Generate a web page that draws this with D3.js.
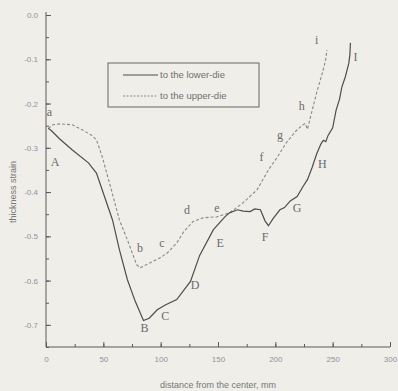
<!DOCTYPE html>
<html>
<head>
<meta charset="utf-8">
<script src="https://cdn.jsdelivr.net/npm/d3@7"></script>
<style>
  html, body { margin: 0; padding: 0; background: #efeee9; }
  svg { display: block; }
</style>
</head>
<body>
<div id="chart"></div>
<script>
// values
const lowerX = [2, 5, 12, 23, 37, 44, 51, 58, 64, 71, 78, 85, 90, 97, 104, 114, 126, 134, 146, 156, 160, 167, 172, 178, 182, 187, 191, 194, 198, 204, 208, 213, 219, 224, 228, 232, 236, 240, 242, 244, 246, 250, 253, 256, 258, 261, 264, 265, 265.5];
const lowerY = [-0.256, -0.262, -0.28, -0.305, -0.334, -0.357, -0.41, -0.463, -0.53, -0.598, -0.648, -0.69, -0.685, -0.666, -0.655, -0.643, -0.602, -0.543, -0.485, -0.456, -0.447, -0.44, -0.443, -0.444, -0.438, -0.44, -0.465, -0.476, -0.46, -0.44, -0.435, -0.42, -0.41, -0.388, -0.372, -0.345, -0.314, -0.29, -0.283, -0.286, -0.272, -0.255, -0.215, -0.19, -0.163, -0.14, -0.11, -0.09, -0.063];

const upperX = [2, 6, 12, 23, 32, 40, 44, 49, 57, 64, 71, 79, 82, 87, 93, 100, 106, 114, 120, 128, 137, 149, 160, 172, 184, 194, 202, 210, 218, 223, 226, 228, 230, 236, 241, 244, 245];
const upperY = [-0.256, -0.248, -0.246, -0.248, -0.26, -0.272, -0.282, -0.32, -0.395, -0.463, -0.508, -0.564, -0.571, -0.565, -0.557, -0.548, -0.537, -0.515, -0.49, -0.467, -0.458, -0.456, -0.447, -0.424, -0.395, -0.35, -0.32, -0.287, -0.262, -0.25, -0.245, -0.258, -0.237, -0.176, -0.131, -0.1, -0.079];

const xTicks = [0, 50, 100, 150, 200, 250, 300];
const xTickLabels = ["0", "50", "100", "150", "200", "250", "300"];
const yTicks = [0, -0.1, -0.2, -0.3, -0.4, -0.5, -0.6, -0.7];
const yTickLabels = ["0.0", "-0.1", "-0.2", "-0.3", "-0.4", "-0.5", "-0.6", "-0.7"];

// point labels on the curves: [distance, strain, letter]
const upperMarks = [[3, -0.228, "a"], [82, -0.535, "b"], [101, -0.525, "c"], [123, -0.45, "d"], [149, -0.445, "e"], [188, -0.33, "f"], [204, -0.28, "g"], [223, -0.215, "h"], [236, -0.065, "i"]];
const lowerMarks = [[8, -0.341, "A"], [86, -0.715, "B"], [104, -0.69, "C"], [130, -0.62, "D"], [152, -0.525, "E"], [191, -0.51, "F"], [219, -0.445, "G"], [241, -0.345, "H"], [270, -0.104, "I"]];

const seriesNames = ["to the lower-die", "to the upper-die"];

const W = 398, H = 391;
const margin = { top: 15, right: 8, bottom: 44, left: 46 };
const width = W - margin.left - margin.right;
const height = H - margin.top - margin.bottom;

const svg = d3.select("#chart").append("svg")
    .attr("width", W)
    .attr("height", H);

const g = svg.append("g")
    .attr("transform", `translate(${margin.left}, ${margin.top})`);

const x = d3.scaleLinear().domain([0, 300]).range([0, width]);
const y = d3.scaleLinear().domain([-0.75, 0]).range([height, 0]);

const tickCol = "#8d93a3";
const axisCol = "#5a5a5a";

// minor ticks
g.append("g")
    .attr("transform", `translate(0, ${height})`)
    .call(d3.axisBottom(x).tickValues(d3.range(0, 301, 25)).tickSize(-3).tickFormat(""))
    .call(a => a.select(".domain").remove())
    .selectAll("line").attr("stroke", axisCol);
g.append("g")
    .call(d3.axisLeft(y).tickValues(d3.range(-0.75, 0.001, 0.05)).tickSize(-3).tickFormat(""))
    .call(a => a.select(".domain").remove())
    .selectAll("line").attr("stroke", axisCol);

let xAxis = d3.axisBottom(x)
    .tickValues(xTicks)
    .tickSize(-5)
    .tickPadding(9)
    .tickFormat((d, i) => xTickLabels[i]);
let xg = g.append("g")
    .attr("transform", `translate(0, ${height})`)
    .call(xAxis);
xg.select(".domain").attr("stroke", axisCol).attr("d", `M0,0H${width}`);
xg.selectAll("line").attr("stroke", axisCol);
xg.selectAll("text").attr("fill", tickCol).style("font", "8px 'Liberation Sans', sans-serif");

let yAxis = d3.axisLeft(y)
    .tickValues(yTicks)
    .tickSize(-5)
    .tickPadding(8)
    .tickFormat((d, i) => yTickLabels[i]);
let yg = g.append("g").call(yAxis);
yg.select(".domain").attr("stroke", axisCol).attr("d", `M0,${height}V-3`);
yg.selectAll("line").attr("stroke", axisCol);
yg.selectAll("text").attr("fill", tickCol).style("font", "8px 'Liberation Sans', sans-serif");

// axis titles
svg.append("text")
    .attr("x", 218).attr("y", 388)
    .attr("text-anchor", "middle")
    .attr("fill", "#777")
    .style("font", "9px 'Liberation Sans', sans-serif")
    .text("distance from the center, mm");
svg.append("text")
    .attr("transform", "translate(16, 192) rotate(-90)")
    .attr("text-anchor", "middle")
    .attr("fill", "#777")
    .style("font", "9px 'Liberation Sans', sans-serif")
    .text("thickness strain");

// curves
const line = d3.line().x(d => x(d[0])).y(d => y(d[1]));
const lower = lowerX.map((v, i) => [v, lowerY[i]]);
const upper = upperX.map((v, i) => [v, upperY[i]]);

g.append("path").datum(upper)
    .attr("d", line)
    .attr("fill", "none")
    .attr("stroke", "#8a8a84")
    .attr("stroke-width", 1.1)
    .attr("stroke-dasharray", "3,2");
g.append("path").datum(lower)
    .attr("d", line)
    .attr("fill", "none")
    .attr("stroke", "#4d4d4d")
    .attr("stroke-width", 1.2);

// letters
g.selectAll(".mk").data(upperMarks.concat(lowerMarks))
    .enter().append("text")
    .attr("x", d => x(d[0]))
    .attr("y", d => y(d[1]))
    .attr("text-anchor", "middle")
    .attr("fill", "#6b6b6b")
    .style("font", "12px 'Liberation Serif', serif")
    .text(d => d[2]);

// legend
const lg = svg.append("g").attr("transform", "translate(108, 63)");
lg.append("rect")
    .attr("width", 151).attr("height", 44)
    .attr("fill", "none")
    .attr("stroke", "#666")
    .attr("stroke-width", 1);
seriesNames.forEach((name, i) => {
    let yy = 12 + i * 21;
    lg.append("line")
        .attr("x1", 15).attr("x2", 50)
        .attr("y1", yy).attr("y2", yy)
        .attr("stroke", i === 0 ? "#4d4d4d" : "#8a8a84")
        .attr("stroke-width", 1.1)
        .attr("stroke-dasharray", i === 0 ? null : "2,1.5");
    lg.append("text")
        .attr("x", 52).attr("y", yy + 3)
        .attr("fill", "#707070")
        .style("font", "9.5px 'Liberation Sans', sans-serif")
        .text(name);
});
</script>
</body>
</html>
